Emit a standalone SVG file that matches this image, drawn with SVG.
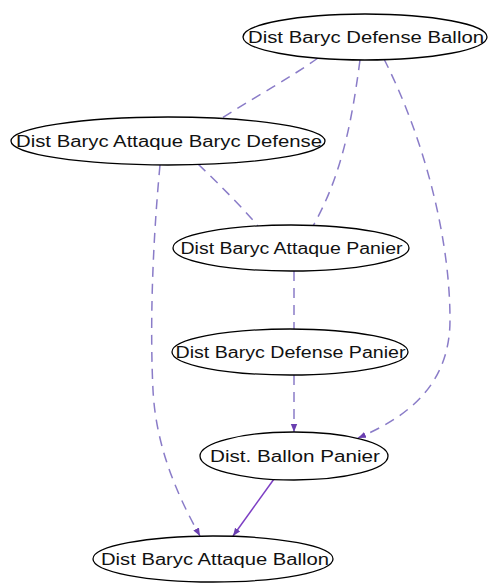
<svg xmlns="http://www.w3.org/2000/svg" width="488" height="584" viewBox="0 0 488 584">
<style>
.node ellipse{fill:#ffffff;stroke:#000000;stroke-width:1.3}
.node text{font-family:"Liberation Sans",Arial,sans-serif;font-size:16px;fill:#111111;text-anchor:middle}
.e{fill:none;stroke:#8a7cc8;stroke-width:1.5;stroke-dasharray:10,7}
.s{fill:none;stroke:#7d3fc4;stroke-width:1.5}
</style>
<defs>
<marker id="arr" viewBox="0 0 10 10" refX="10" refY="5" markerWidth="8" markerHeight="8" markerUnits="userSpaceOnUse" orient="auto">
<path d="M0,1 L10,5 L0,9 z" fill="#6a3fb0"/>
</marker>
</defs>
<rect width="488" height="584" fill="#ffffff"/>
<g id="connectors">
<path class="e" d="M318,58 C290,78 250,100 222,118"/>
<path class="e" d="M198,164 C220,185 240,205 258,226"/>
<path class="e" d="M360,60 C352,120 342,175 313,226"/>
<path class="e" d="M384,59 C420,130 450,230 450,320 C450,390 400,420 358,438" marker-end="url(#arr)"/>
<path class="e" d="M294,271 L294,329"/>
<path class="e" d="M294,375 L294,432" marker-end="url(#arr)"/>
<path class="e" d="M160,165 C152,250 150,330 153,390 C156,450 180,500 200,536" marker-end="url(#arr)"/>
<path class="s" d="M274,479 L233,536" marker-end="url(#arr)"/>
</g>
<g id="n1" class="node">
<ellipse cx="365" cy="37" rx="122" ry="23"/>
<text x="366" y="43" textLength="236" lengthAdjust="spacingAndGlyphs">Dist Baryc Defense Ballon</text>
</g>
<g id="n2" class="node">
<ellipse cx="168" cy="141" rx="157" ry="24"/>
<text x="169" y="147" textLength="306" lengthAdjust="spacingAndGlyphs">Dist Baryc Attaque Baryc Defense</text>
</g>
<g id="n3" class="node">
<ellipse cx="291" cy="248" rx="118" ry="23"/>
<text x="291.5" y="254" textLength="222" lengthAdjust="spacingAndGlyphs">Dist Baryc Attaque Panier</text>
</g>
<g id="n4" class="node">
<ellipse cx="290" cy="352" rx="118" ry="23"/>
<text x="290.5" y="358" textLength="230" lengthAdjust="spacingAndGlyphs">Dist Baryc Defense Panier</text>
</g>
<g id="n5" class="node">
<ellipse cx="294" cy="456" rx="94" ry="24"/>
<text x="295" y="462" textLength="170" lengthAdjust="spacingAndGlyphs">Dist. Ballon Panier</text>
</g>
<g id="n6" class="node">
<ellipse cx="213" cy="559" rx="120" ry="23"/>
<text x="215" y="565" textLength="228" lengthAdjust="spacingAndGlyphs">Dist Baryc Attaque Ballon</text>
</g>
</svg>
